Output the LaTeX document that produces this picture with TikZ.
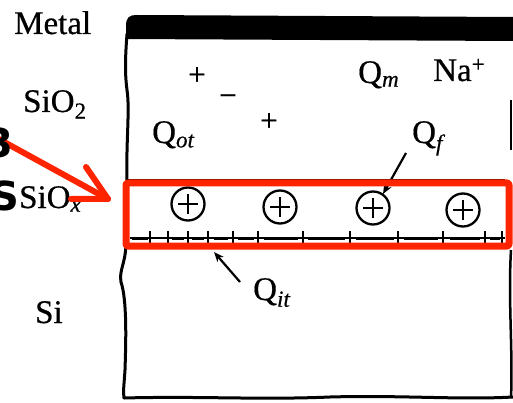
\documentclass[tikz,border=0pt]{standalone}
\usepackage{fontspec}
\setmainfont{Liberation Serif}[FakeBold=0.5]
\newfontfamily\handfont{DejaVu Sans}
\usetikzlibrary{arrows.meta}
\definecolor{annot}{RGB}{255,36,0}
\begin{document}
\begin{tikzpicture}[x=1pt,y=-1pt,
  lbl/.style={font=\fontsize{33}{40}\selectfont, inner sep=0pt, anchor=base west},
  sign/.style={font=\fontsize{31}{36}\selectfont, inner sep=0pt},
  border/.style={line width=3pt, line cap=round, line join=round},
  cplus/.style={circle, draw, line width=2.3pt, minimum size=33pt, inner sep=0pt,
    path picture={
      \draw[line width=2.2pt] ([xshift=-10pt]path picture bounding box.center) -- ([xshift=10pt]path picture bounding box.center);
      \draw[line width=2.2pt] ([yshift=-10pt]path picture bounding box.center) -- ([yshift=10pt]path picture bounding box.center);}},
  ptr/.style={line width=2.2pt, -{Stealth[length=10pt,width=8pt]}},
  hand/.style={font=\handfont\bfseries\fontsize{40}{44}\selectfont, inner sep=0pt, anchor=east},
  redline/.style={draw=annot, line width=7pt, line cap=round, line join=round}
]
\useasboundingbox (0,0) rectangle (513,403);
\fill[white] (0,0) rectangle (513,403);

% metal bar
\fill (126,26) .. controls (126,18) and (129,15) .. (136,15) -- (513,17) -- (513,41) -- (126,39) -- cycle;

% left wavy border
\draw[border] (127,34) .. controls (125,60) and (125,75) .. (127,90)
  .. controls (130,110) and (126,140) .. (127,180);
\draw[border] (126,245) .. controls (125,265) and (119,270) .. (121,282)
  .. controls (127,300) and (126,340) .. (125,370)
  .. controls (124,385) and (123,392) .. (124,398);
% bottom wavy border
\draw[border] (124,398) .. controls (200,396) and (260,400) .. (330,397)
  .. controls (400,395) and (460,400) .. (513,397);
% right border
\draw[line width=2pt] (511,100) -- (511,150);
\draw[line width=2.5pt] (511,250) .. controls (508,300) and (513,350) .. (511,398);

% SiO2 / SiOx interface
\draw[line width=1.5pt] (128,180) -- (505,180);

% interface states line
\draw[line width=1.3pt] (130,238) -- (505,238);
\foreach \a/\b in {132/148,172/184,192/204,214/228,238/254,264/298,308/345,356/394,404/438,450/480,490/500}
  \draw[line width=3pt] (\a,238) -- (\b,238);
\foreach \t in {150,168,188,208,233,258,303,350,398,443,485,502}
  \draw[line width=1.3pt] (\t,231) -- (\t,245);

% fixed charges
\node[cplus] (c1) at (188,204) {};
\node[cplus] (c2) at (280,207) {};
\node[cplus] (c3) at (373,208) {};
\node[cplus] (c4) at (463,210) {};

% labels on the left
\node[lbl] (metal) at (14,34) {Metal};
\node[lbl] (sio2) at (23,112) {SiO\textsubscript{2}};
\node[lbl] (siox) at (19,208) {SiO\textsubscript{\textit{x}}};
\node[lbl] (si) at (35,323) {Si};

% charges in oxide
\node[sign] (p1) at (197,76) {+};
\node[sign] (m1) at (228,100) {−};
\node[sign] (p2) at (269,122) {+};
\node[lbl] (qot) at (152,143) {Q\textsubscript{\textit{ot}}};
\node[lbl] (qm) at (358,83) {Q\textsubscript{\textit{m}}};
\node[lbl] (na) at (433,81) {Na\textsuperscript{+}};
\node[lbl] (qf) at (412,143) {Q\textsubscript{\textit{f}}};
\node[lbl] (qit) at (253,300) {Q\textsubscript{\textit{it}}};

% pointers
\coordinate (qfs) at (406,153);
\coordinate (qfe) at (383,194);
\draw[ptr] (qfs) -- (qfe);
\coordinate (qits) at (240,282);
\coordinate (qite) at (214,252);
\draw[ptr] (qits) -- (qite);

% red annotation box
\draw[redline, rounded corners=2pt] (126,183) rectangle (509,246);

% red annotation arrow
\coordinate (ra) at (-5,137);
\coordinate (rb) at (108,199);
\coordinate (rw1) at (86,167);
\coordinate (rw2) at (71,199);
\draw[redline, line width=6pt] (ra) -- (rb);
\draw[redline, line width=6pt] (rw1) -- (rb) -- (rw2);

% handwritten fragments
\node[hand] (h3) at (14,143) {3};
\node[hand] (hs) at (20,196) {S};
\end{tikzpicture}
\end{document}
